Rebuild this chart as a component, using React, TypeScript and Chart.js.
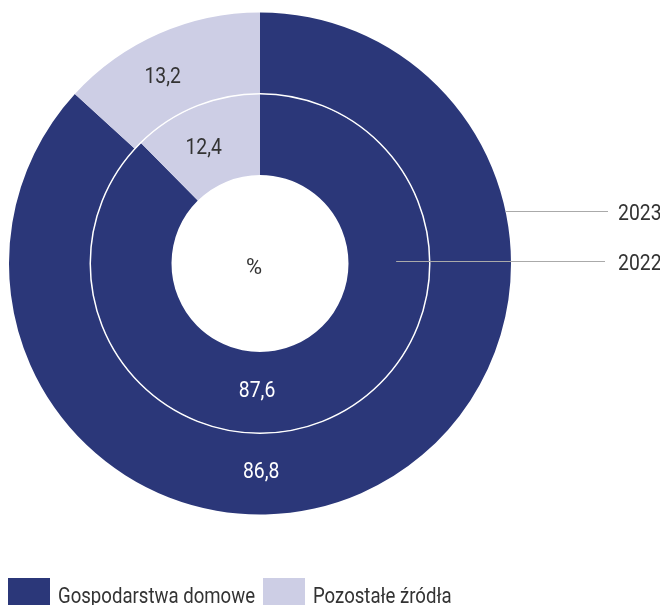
import React, { useEffect, useRef } from "react";
import { Chart, registerables } from "chart.js";

Chart.register(...registerables);

const categories = ["Gospodarstwa domowe", "Pozostałe źródła"];
const years = ["2023", "2022"];
const values2023 = [86.8, 13.2];
const values2022 = [87.6, 12.4];
const colors = ["#2B3779", "#CDCEE5"];
const valueTextColors = ["#FFFFFF", "#333333"];
const centerLabel = "%";

const FONT = 'Roboto, "Noto Sans", sans-serif';
const SQUEEZE = 0.88;
const LEGEND_SQUEEZE = 0.845;
const fmt = (v: number) => v.toFixed(1).replace(".", ",");

function drawText(ctx: CanvasRenderingContext2D, text: string, x: number, y: number, sx = SQUEEZE) {
  ctx.save();
  ctx.translate(x, y);
  ctx.scale(sx, 1);
  ctx.fillText(text, 0, 0);
  ctx.restore();
  return ctx.measureText(text).width * sx;
}

const overlayPlugin = {
  id: "overlay",
  afterDatasetsDraw(chart: any) {
    const ctx = chart.ctx as CanvasRenderingContext2D;
    const meta0 = chart.getDatasetMeta(0);
    const meta1 = chart.getDatasetMeta(1);
    const a0 = meta0.data[0] as any;
    const a1 = meta1.data[0] as any;
    const cx = a0.x;
    const cy = a0.y;
    ctx.save();
    // ring separator
    ctx.strokeStyle = "#FFFFFF";
    ctx.lineWidth = 1.5;
    ctx.beginPath();
    ctx.arc(cx, cy, a0.innerRadius, 0, Math.PI * 2);
    ctx.stroke();

    // value labels
    const frac = [0.575, 0.42];
    ctx.font = `22px ${FONT}`;
    ctx.textAlign = "center";
    ctx.textBaseline = "middle";
    [meta0, meta1].forEach((meta: any, d: number) => {
      const ds = chart.data.datasets[d];
      meta.data.forEach((arc: any, i: number) => {
        const ang = arc.startAngle + frac[i] * (arc.endAngle - arc.startAngle);
        const r = (arc.innerRadius + arc.outerRadius) / 2 - (i === 0 ? 2 : 0);
        ctx.fillStyle = valueTextColors[i];
        drawText(ctx, fmt(ds.data[i]), arc.x + r * Math.cos(ang), arc.y + r * Math.sin(ang) + 1);
      });
    });

    // center label
    ctx.fillStyle = "#333333";
    drawText(ctx, centerLabel, cx - 6, cy + 5, 1);

    // leader lines and year labels
    const R0 = a0.outerRadius;
    const lines = [
      { text: years[0], dy: -52.5, x0: cx + Math.sqrt(R0 * R0 - 52.5 * 52.5), x1: 600 },
      { text: years[1], dy: -2.5, x0: cx + (a1.innerRadius + a1.outerRadius) / 2 + 7, x1: 597 },
    ];
    ctx.strokeStyle = "#AAAAAA";
    ctx.lineWidth = 1;
    ctx.textAlign = "left";
    lines.forEach((l) => {
      const y = Math.round(cy + l.dy) + 0.5;
      ctx.beginPath();
      ctx.moveTo(l.x0, y);
      ctx.lineTo(l.x1, y);
      ctx.stroke();
      ctx.fillStyle = "#333333";
      drawText(ctx, l.text, 610, y + 3);
    });

    // legend
    let x = 0;
    const boxTop = 570;
    ctx.textBaseline = "alphabetic";
    categories.forEach((c, i) => {
      ctx.fillStyle = colors[i];
      ctx.fillRect(x, boxTop, 42, 36);
      x += 50;
      ctx.fillStyle = "#333333";
      x += drawText(ctx, c, x, 595, LEGEND_SQUEEZE) + 8;
    });
    ctx.restore();
  },
};

export default function App() {
  const ref = useRef<HTMLCanvasElement | null>(null);
  useEffect(() => {
    if (!ref.current) return;
    const chart = new Chart(ref.current, {
      type: "doughnut",
      data: {
        labels: categories,
        datasets: [
          { label: years[0], data: values2023, backgroundColor: colors, borderWidth: 0, hoverOffset: 0 },
          { label: years[1], data: values2022, backgroundColor: colors, borderWidth: 0, hoverOffset: 0 },
        ],
      },
      options: {
        responsive: false,
        animation: false,
        cutout: 88.5,
        layout: { padding: { left: 1, top: 4.5, right: 157, bottom: 90.5 } },
        plugins: { legend: { display: false }, tooltip: { enabled: false } },
      },
      plugins: [overlayPlugin],
    });
    return () => chart.destroy();
  }, []);
  return <canvas ref={ref} width={660} height={597} style={{ display: "block" }} />;
}
